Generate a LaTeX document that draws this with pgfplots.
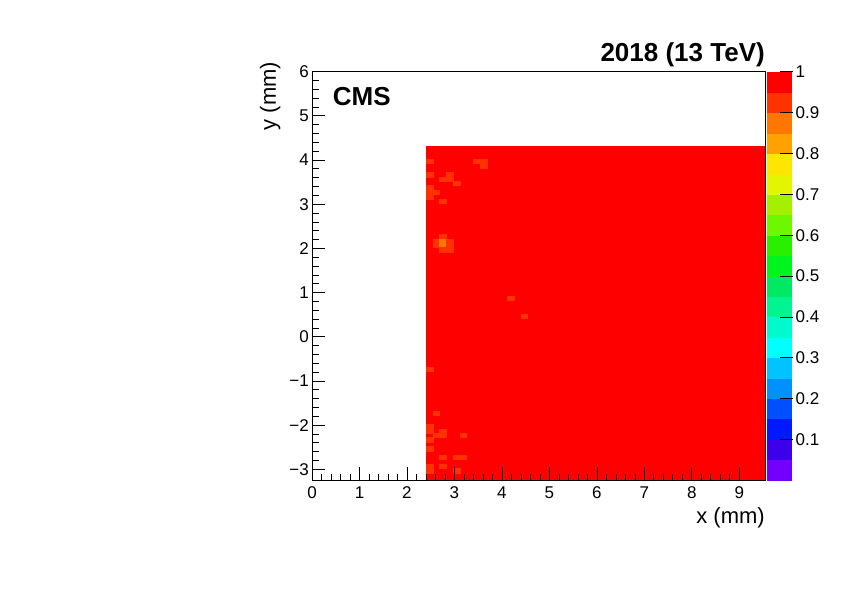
\documentclass[border=0pt]{standalone}
\usepackage{fontspec}
\setmainfont{Liberation Sans}
\usepackage{pgfplots}
\pgfplotsset{compat=1.18}
\usepgfplotslibrary{patchplots}
\pgfplotsset{
  colormap={rootrainbow}{
    rgb255=(115,0,255) rgb255=(60,0,235) rgb255=(0,25,255) rgb255=(0,80,255)
    rgb255=(0,145,255) rgb255=(0,195,255) rgb255=(0,255,255) rgb255=(0,250,205)
    rgb255=(0,245,145) rgb255=(0,232,100) rgb255=(0,245,30) rgb255=(40,240,0)
    rgb255=(110,248,0) rgb255=(165,240,0) rgb255=(228,245,0) rgb255=(255,230,0)
    rgb255=(255,162,0) rgb255=(255,118,0) rgb255=(255,50,0) rgb255=(255,0,0)}
}
\begin{document}
\begin{tikzpicture}
\path[use as bounding box] (0,0) rectangle (842bp,595bp);
\begin{axis}[
  at={(312bp,114.6bp)}, anchor=south west,
  scale only axis, width=453bp, height=408.7bp,
  xmin=0, xmax=9.54, ymin=-3.25, ymax=6,
  clip mode=individual,
  colormap name=rootrainbow,
  colormap access=piecewise constant,
  point meta min=0, point meta max=1,
  axis on top,
  axis line style={line width=0.9bp},
  every tick/.style={black, line width=0.8bp},
  tick align=inside,
  xtick pos=left, ytick pos=left,
  major tick length=13bp, minor tick length=6.5bp,
  xtick={0,1,2,3,4,5,6,7,8,9},
  xticklabels={0,1,2,3,4,5,6,7,8,9},
  ytick={-3,-2,-1,0,1,2,3,4,5,6},
  yticklabels={−3,−2,−1,0,1,2,3,4,5,6},
  minor x tick num=4, minor y tick num=4,
  /pgf/number format/assume math mode=true,
  tick label style={font=\fontsize{17bp}{19bp}\selectfont},
  xticklabel style={inner sep=0pt, yshift=-6.5bp},
  yticklabel style={inner sep=0pt, xshift=-3bp},
  xlabel={x (mm)},
  ylabel={y (mm)},
  label style={font=\fontsize{22bp}{24bp}\selectfont},
  xlabel style={at={(axis description cs:1,-0.1052)}, anchor=base east, inner sep=0pt},
  ylabel style={at={(axis description cs:-0.0795,1.0245)}, anchor=base east, inner sep=0pt},
  colorbar,
  colorbar style={
    at={(parent axis.north east)}, anchor=north west, xshift=-7bp,
    scale only axis, width=26bp, height=408.7bp,
    axis line style={draw=none},
    axis on top,
    tick align=inside,
    ytick pos=right, yticklabel pos=right,
    major tick length=13bp,
    every tick/.style={black, line width=0.8bp},
    ytick={0.1,0.2,0.3,0.4,0.5,0.6,0.7,0.8,0.9,1},
    yticklabels={0.1,0.2,0.3,0.4,0.5,0.6,0.7,0.8,0.9,1},
    minor y tick num=0,
    yticklabel style={font=\fontsize{17bp}{19bp}\selectfont, inner sep=0pt, xshift=3bp},
  },
]
\addplot[patch, patch type=rectangle, shader=flat, point meta=explicit]
  table[x=x, y=y, meta=c] {
x y c
2.400 -3.30 0.98
9.600 -3.30 0.98
9.600 4.32 0.98
2.400 4.32 0.98
2.400 3.92 0.93
2.543 3.92 0.93
2.543 4.02 0.93
2.400 4.02 0.93
3.400 3.92 0.93
3.685 3.92 0.93
3.685 4.02 0.93
3.400 4.02 0.93
3.542 3.82 0.93
3.685 3.82 0.93
3.685 3.92 0.93
3.542 3.92 0.93
2.400 3.62 0.93
2.543 3.62 0.93
2.543 3.72 0.93
2.400 3.72 0.93
2.828 3.62 0.93
2.971 3.62 0.93
2.971 3.72 0.93
2.828 3.72 0.93
2.686 3.52 0.93
2.971 3.52 0.93
2.971 3.62 0.93
2.686 3.62 0.93
2.971 3.42 0.93
3.114 3.42 0.93
3.114 3.52 0.93
2.971 3.52 0.93
2.400 3.12 0.93
2.543 3.12 0.93
2.543 3.42 0.93
2.400 3.42 0.93
2.543 3.22 0.93
2.686 3.22 0.93
2.686 3.32 0.93
2.543 3.32 0.93
2.686 3.02 0.93
2.828 3.02 0.93
2.828 3.12 0.93
2.686 3.12 0.93
2.686 2.22 0.93
2.828 2.22 0.93
2.828 2.32 0.93
2.686 2.32 0.93
2.543 2.02 0.93
2.686 2.02 0.93
2.686 2.22 0.93
2.543 2.22 0.93
2.686 2.02 0.86
2.828 2.02 0.86
2.828 2.22 0.86
2.686 2.22 0.86
2.828 1.92 0.93
2.971 1.92 0.93
2.971 2.22 0.93
2.828 2.22 0.93
2.686 1.92 0.93
2.828 1.92 0.93
2.828 2.02 0.93
2.686 2.02 0.93
4.114 0.82 0.93
4.256 0.82 0.93
4.256 0.92 0.93
4.114 0.92 0.93
4.399 0.42 0.93
4.542 0.42 0.93
4.542 0.52 0.93
4.399 0.52 0.93
2.400 -0.78 0.93
2.543 -0.78 0.93
2.543 -0.68 0.93
2.400 -0.68 0.93
2.543 -1.78 0.93
2.686 -1.78 0.93
2.686 -1.68 0.93
2.543 -1.68 0.93
2.400 -2.18 0.93
2.543 -2.18 0.93
2.543 -1.98 0.93
2.400 -1.98 0.93
2.686 -2.18 0.93
2.828 -2.18 0.93
2.828 -2.08 0.93
2.686 -2.08 0.93
2.543 -2.28 0.93
2.828 -2.28 0.93
2.828 -2.18 0.93
2.543 -2.18 0.93
3.114 -2.28 0.93
3.257 -2.28 0.93
3.257 -2.18 0.93
3.114 -2.18 0.93
2.400 -2.38 0.93
2.543 -2.38 0.93
2.543 -2.28 0.93
2.400 -2.28 0.93
2.400 -2.58 0.93
2.543 -2.58 0.93
2.543 -2.48 0.93
2.400 -2.48 0.93
2.686 -2.78 0.93
2.828 -2.78 0.93
2.828 -2.68 0.93
2.686 -2.68 0.93
2.971 -2.78 0.93
3.257 -2.78 0.93
3.257 -2.68 0.93
2.971 -2.68 0.93
2.686 -2.98 0.93
2.828 -2.98 0.93
2.828 -2.88 0.93
2.686 -2.88 0.93
2.400 -3.08 0.93
2.543 -3.08 0.93
2.543 -2.88 0.93
2.400 -2.88 0.93
2.971 -3.08 0.93
3.114 -3.08 0.93
3.114 -2.98 0.93
2.971 -2.98 0.93
};
\node[anchor=base west, inner sep=0pt, font=\fontsize{26bp}{28bp}\selectfont\bfseries]
  at (axis description cs:0.0457,0.9168) {CMS};
\node[anchor=base east, inner sep=0pt, font=\fontsize{26bp}{28bp}\selectfont\bfseries]
  at (axis description cs:1,1.025) {2018 (13 TeV)};
\end{axis}
\end{tikzpicture}
\end{document}
